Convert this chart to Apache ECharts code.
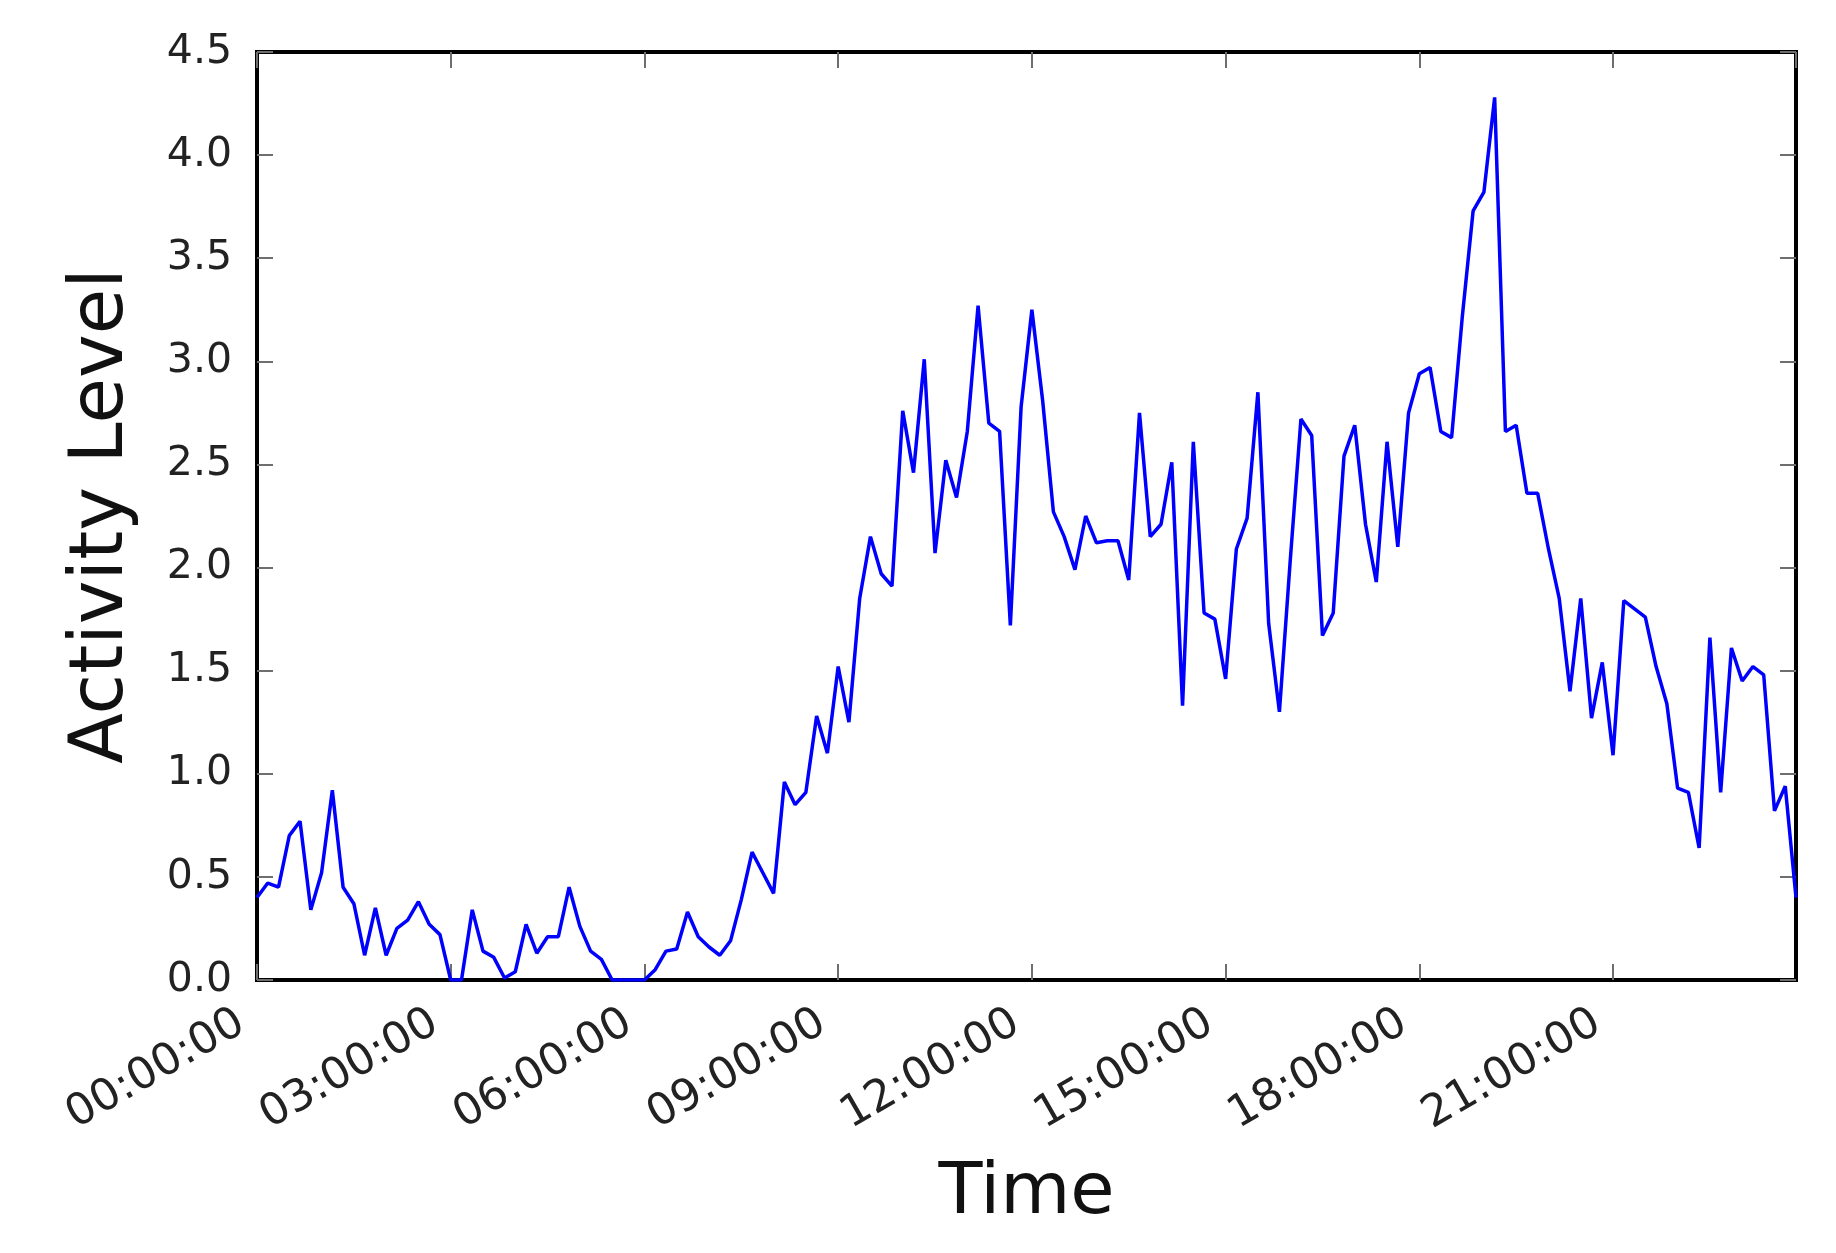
<!DOCTYPE html>
<html>
<head>
<meta charset="utf-8">
<script src="https://cdn.jsdelivr.net/npm/echarts@6/dist/echarts.min.js"></script>
<style>
  html, body { margin: 0; padding: 0; background: #ffffff; }
  #chart { width: 1836px; height: 1253px; }
</style>
</head>
<body>
<div id="chart"></div>
<script>
// Sampling step of the series, in minutes (one reading every 10 minutes)
const stepMinutes = 10;

// Tick labels along the time axis (every 3 hours)
const timeTickLabels = ['00:00:00', '03:00:00', '06:00:00', '09:00:00', '12:00:00', '15:00:00', '18:00:00', '21:00:00'];

// Y tick labels
const levelTickLabels = ['0.0', '0.5', '1.0', '1.5', '2.0', '2.5', '3.0', '3.5', '4.0', '4.5'];

// Activity level readings, 00:00 to 23:50
const activity00to06 = [
  0.40, 0.47, 0.45, 0.70, 0.77, 0.34, 0.52, 0.92, 0.45, 0.37, 0.12, 0.35,
  0.12, 0.25, 0.29, 0.38, 0.27, 0.22, 0.00, 0.00, 0.34, 0.14, 0.11, 0.01,
  0.04, 0.27, 0.13, 0.21, 0.21, 0.45, 0.26, 0.14, 0.10, 0.00, 0.00, 0.00
];
const activity06to12 = [
  0.00, 0.05, 0.14, 0.15, 0.33, 0.21, 0.16, 0.12, 0.19, 0.39, 0.62, 0.52,
  0.42, 0.96, 0.85, 0.91, 1.28, 1.10, 1.52, 1.25, 1.85, 2.15, 1.97, 1.91,
  2.76, 2.46, 3.01, 2.07, 2.52, 2.34, 2.66, 3.27, 2.70, 2.66, 1.72, 2.78
];
const activity12to18 = [
  3.25, 2.81, 2.27, 2.15, 1.99, 2.25, 2.12, 2.13, 2.13, 1.94, 2.75, 2.15,
  2.21, 2.51, 1.33, 2.61, 1.78, 1.75, 1.46, 2.09, 2.24, 2.85, 1.73, 1.30,
  2.03, 2.72, 2.64, 1.67, 1.78, 2.54, 2.69, 2.21, 1.93, 2.61, 2.10, 2.75
];
const activity18to24 = [
  2.94, 2.97, 2.66, 2.63, 3.22, 3.73, 3.82, 4.28, 2.66, 2.69, 2.36, 2.36,
  2.09, 1.85, 1.40, 1.85, 1.27, 1.54, 1.09, 1.84, 1.80, 1.76, 1.52, 1.34,
  0.93, 0.91, 0.64, 1.66, 0.91, 1.61, 1.45, 1.52, 1.48, 0.82, 0.94, 0.40
];

const activity = activity00to06.concat(activity06to12, activity12to18, activity18to24);
const seriesData = activity.map((v, i) => [i * stepMinutes, v]);
const lastMinute = (activity.length - 1) * stepMinutes;

const FONT = 'DejaVu Sans';
function tickStyle() {
  return { show: true, inside: true, length: 16, lineStyle: { color: '#6e6e6e', width: 2 } };
}
function frameLine() {
  return { show: true, onZero: false, lineStyle: { color: '#000', width: 4 } };
}

const chart = echarts.init(document.getElementById('chart'), null, { renderer: 'canvas' });
chart.setOption({
  backgroundColor: '#ffffff',
  animation: false,
  grid: {
    left: 257, right: 40, top: 52, bottom: 273,
    show: true, borderColor: '#000', borderWidth: 4, backgroundColor: 'transparent'
  },
  xAxis: [
    {
      type: 'value', min: 0, max: lastMinute, interval: 180, position: 'bottom',
      axisLine: frameLine(),
      axisTick: tickStyle(),
      splitLine: { show: false },
      axisLabel: {
        rotate: 30, margin: 31, fontFamily: FONT, fontSize: 44, color: '#222',
        padding: [0, 18, 0, 0],
        showMaxLabel: false,
        formatter: v => (v % 180 === 0 && timeTickLabels[v / 180] !== undefined) ? timeTickLabels[v / 180] : ''
      },
      name: 'Time', nameLocation: 'middle', nameGap: 178,
      nameTextStyle: { fontFamily: FONT, fontSize: 72, color: '#111' }
    },
    {
      type: 'value', min: 0, max: lastMinute, interval: 180, position: 'top',
      axisLine: frameLine(),
      axisTick: tickStyle(), axisLabel: { show: false }, splitLine: { show: false }
    }
  ],
  yAxis: [
    {
      type: 'value', min: 0, max: 4.5, interval: 0.5, position: 'left',
      axisLine: frameLine(),
      axisTick: tickStyle(),
      splitLine: { show: false },
      axisLabel: {
        margin: 25, fontFamily: FONT, fontSize: 41, color: '#222',
        formatter: v => levelTickLabels[Math.round(v / 0.5)]
      },
      name: 'Activity Level', nameLocation: 'middle', nameGap: 117,
      nameTextStyle: { fontFamily: FONT, fontSize: 74, color: '#111' }
    },
    {
      type: 'value', min: 0, max: 4.5, interval: 0.5, position: 'right',
      axisLine: frameLine(),
      axisTick: tickStyle(), axisLabel: { show: false }, splitLine: { show: false }
    }
  ],
  series: [{
    type: 'line',
    xAxisIndex: 0, yAxisIndex: 0,
    data: seriesData,
    showSymbol: false,
    lineStyle: { color: '#0000ff', width: 3.5 },
    itemStyle: { color: '#0000ff' }
  }]
});
</script>
</body>
</html>
